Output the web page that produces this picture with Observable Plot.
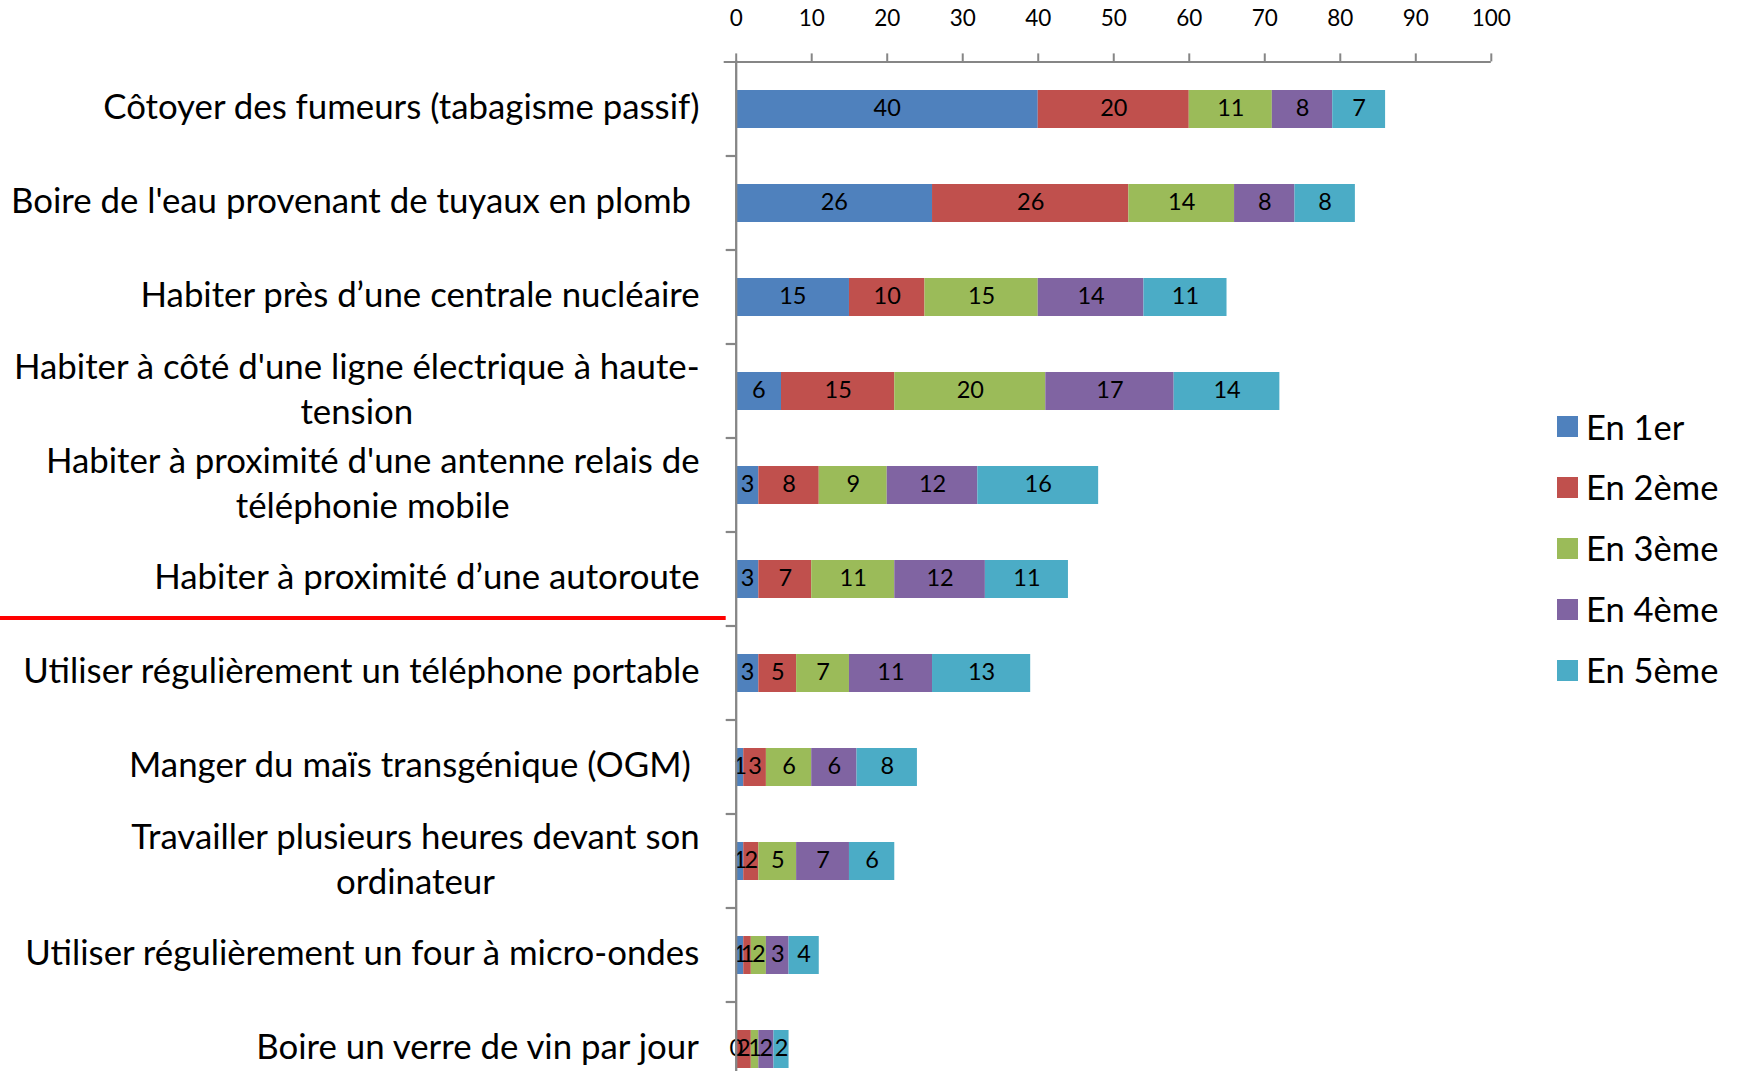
<!DOCTYPE html>
<html>
<head>
<meta charset="utf-8">
<script src="https://cdn.jsdelivr.net/npm/d3@7"></script>
<script src="https://cdn.jsdelivr.net/npm/@observablehq/plot@0.6"></script>
<style>
  html, body { margin: 0; padding: 0; background: #fff; }
  #wrap { position: relative; width: 1737px; height: 1071px; overflow: hidden; background: #fff; }
  #legend { position: absolute; left: 1557px; top: 0; font-family: Lato, "Open Sans", sans-serif; color: #000; }
  .lg-item { position: absolute; left: 0; height: 21px; white-space: nowrap; }
  .lg-sw { position: absolute; left: 0; top: 0; width: 21px; height: 21px; }
  .lg-tx { position: absolute; left: 29px; top: 50%; transform: translateY(-50%); line-height: 1; }
</style>
</head>
<body>
<div id="wrap"></div>
<script>
// ---------- data ----------
const categories = [
  "Côtoyer des fumeurs (tabagisme passif)",
  "Boire de l'eau provenant de tuyaux en plomb ",
  "Habiter près d’une centrale nucléaire",
  "Habiter à côté d'une ligne électrique à haute-\ntension",
  "Habiter à proximité d'une antenne relais de\ntéléphonie mobile",
  "Habiter à proximité d’une autoroute",
  "Utiliser régulièrement un téléphone portable",
  "Manger du maïs transgénique (OGM) ",
  "Travailler plusieurs heures devant son\nordinateur",
  "Utiliser régulièrement un four à micro-ondes",
  "Boire un verre de vin par jour"
];
const series = ["En 1er", "En 2ème", "En 3ème", "En 4ème", "En 5ème"];
const colors = ["#4F81BD", "#C0504D", "#9BBB59", "#8064A2", "#4BACC6"];
const en1 = [40, 26, 15, 6, 3, 3, 3, 1, 1, 1, 0];
const en2 = [20, 26, 10, 15, 8, 7, 5, 3, 2, 1, 2];
const en3 = [11, 14, 15, 20, 9, 11, 7, 6, 5, 2, 1];
const en4 = [8, 8, 14, 17, 12, 12, 11, 6, 7, 3, 2];
const en5 = [7, 8, 11, 14, 16, 11, 13, 8, 6, 4, 2];
const xTicks = [0, 10, 20, 30, 40, 50, 60, 70, 80, 90, 100];
const separatorBefore = "Utiliser régulièrement un téléphone portable";

// ---------- table for the library ----------
const seriesValues = [en1, en2, en3, en4, en5];
const rows = [];
series.forEach((s, si) => {
  categories.forEach((c, ci) => rows.push({cat: c, series: s, value: seriesValues[si][ci]}));
});

// ---------- styles ----------
const FONT = 'Lato, "Open Sans", sans-serif';
const CAT_SIZE = 34.8;
const CAT_LINE = 45.4;
const VAL_SIZE = 23.5;
const TICK_SIZE = 22.5;
const LEG_SIZE = 34.5;
const AXIS_GRAY = "#868686";

const W = 1737, H = 1071;
const mTop = 60.4, mLeft = 735.7, mRight = W - 1490.8;
const yRange = [mTop, mTop + 11 * 94.25];

const ctx = document.createElement("canvas").getContext("2d");
ctx.font = `${CAT_SIZE}px ${FONT}`;
const measure = s => ctx.measureText(s).width;

function axisFrame(index, scales) {
  const {x, y} = scales;
  const g = d3.create("svg:g");
  const bw = typeof y.bandwidth === "function" ? y.bandwidth() : y.bandwidth;
  const step = y(categories[1]) - y(categories[0]);
  const off = (step - bw) / 2;
  const x0 = x(0);
  const ga = g.append("g").attr("stroke", AXIS_GRAY).attr("stroke-width", 2.2);
  const yTop = y(categories[0]) - off;
  ga.append("line").attr("x1", x0 - 12).attr("x2", x(100)).attr("y1", yTop).attr("y2", yTop);
  categories.slice(1).forEach(c => {
    const yy = y(c) - off;
    ga.append("line").attr("x1", x0 - 10).attr("x2", x0).attr("y1", yy).attr("y2", yy);
  });
  // red separator
  const ys = y(separatorBefore) - off - 8;
  g.append("line").attr("x1", 0).attr("x2", x0 - 10).attr("y1", ys).attr("y2", ys)
    .attr("stroke", "#FF0000").attr("stroke-width", 4);
  return g.node();
}

function categoryLabels(index, scales) {
  const {x, y} = scales;
  const bw = typeof y.bandwidth === "function" ? y.bandwidth() : y.bandwidth;
  const right = x(0) - 35.7;
  const g = d3.create("svg:g").attr("font-family", FONT).attr("font-size", CAT_SIZE).attr("fill", "#000");
  categories.forEach(c => {
    const lines = c.split("\n");
    const w = Math.max(...lines.map(measure));
    const cy = y(c) + bw / 2;
    const t = g.append("text").attr("text-anchor", "middle")
      .attr("transform", `translate(${right - w / 2},${cy})`)
      .style("white-space", "pre");
    lines.forEach((l, i) => {
      t.append("tspan").attr("x", 0).attr("y", (i - (lines.length - 1) / 2) * CAT_LINE)
        .attr("dy", "0.3em").text(l);
    });
  });
  return g.node();
}

const chart = Plot.plot({
  width: W,
  height: H,
  marginTop: mTop,
  marginLeft: mLeft,
  marginRight: mRight,
  marginBottom: 0,
  style: {fontFamily: FONT, background: "#fff", color: "#000", overflow: "hidden"},
  x: {domain: [0, 100], axis: null},
  y: {domain: categories, range: yRange, paddingInner: 0.593, paddingOuter: 0.296, axis: null},
  color: {domain: series, range: colors},
  marks: [
    Plot.barX(rows, Plot.stackX({x: "value", y: "cat", fill: "series", order: series})),
    Plot.text(rows, Plot.stackX({x: "value", y: "cat", z: "series", order: series,
      text: d => String(d.value), fill: "#000", fontSize: VAL_SIZE, dy: -1})),
    Plot.ruleX([0], {stroke: AXIS_GRAY, strokeWidth: 2.3}),
    Plot.axisX(xTicks, {anchor: "top", tickSize: 8, tickPadding: 26.5, fontSize: TICK_SIZE,
      label: null, tickFormat: d => String(d), stroke: AXIS_GRAY, strokeWidth: 2, fill: "#000"}),
    axisFrame,
    categoryLabels
  ]
});

const wrap = document.getElementById("wrap");
wrap.appendChild(chart);

// legend (right side)
const legend = d3.select(wrap).append("div").attr("id", "legend");
series.forEach((s, i) => {
  const item = legend.append("div").attr("class", "lg-item").style("top", `${416 + i * 60.9}px`);
  item.append("div").attr("class", "lg-sw").style("background", colors[i]);
  item.append("div").attr("class", "lg-tx").style("font-size", `${LEG_SIZE}px`).text(s);
});
</script>
</body>
</html>
